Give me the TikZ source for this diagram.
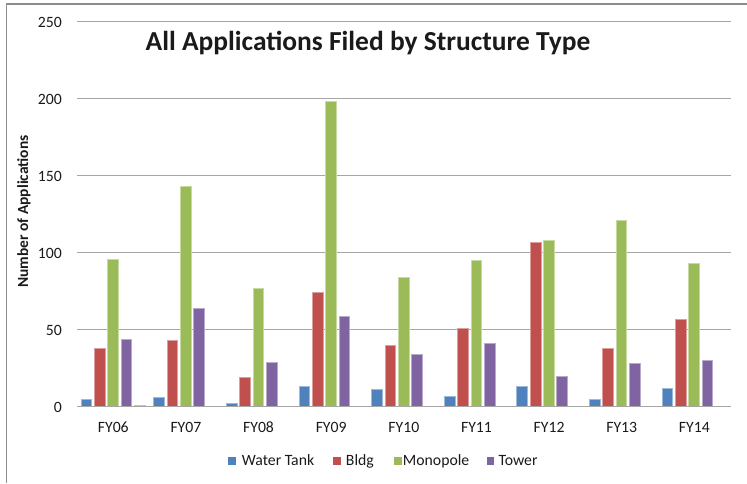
\documentclass[tikz,border=0pt]{standalone}
\usepackage{fontspec}
\setmainfont{Carlito}
\definecolor{wtank}{HTML}{4F81BD}
\definecolor{bldg}{HTML}{C0504D}
\definecolor{mono}{HTML}{9BBB59}
\definecolor{towr}{HTML}{8064A2}
\definecolor{xtra}{HTML}{4BACC6}
\definecolor{gridgray}{HTML}{A6A6A6}
\definecolor{bordergray}{HTML}{8C8C8C}
\definecolor{txt}{HTML}{1A1A1A}
\begin{document}
\begin{tikzpicture}[x=0.75pt,y=-0.75pt,
  font=\fontsize{11.8}{14}\selectfont,
  gridline/.style={draw=gridgray, line width=1pt},
  barstyle/.style={fill=#1, draw=#1!55!white, line width=0.45pt},
  lab/.style={text=txt, inner sep=0pt},
  legsq/.style={fill=#1, draw=none}]
\useasboundingbox (0,0) rectangle (747,483);
% outer chart border (top and left visible)
\coordinate (bl) at (6.5,483);
\coordinate (tl) at (6.5,4);
\coordinate (tr) at (747,4);
\draw[draw=bordergray, line width=1pt] (bl) -- (tl) -- (tr);
% gridlines and value labels
\foreach \v in {50,100,150,200,250}{
  \coordinate (gl\v) at (77,{406.7-1.54*\v});
  \coordinate (gr\v) at (730.7,{406.7-1.54*\v});
  \draw[gridline] (gl\v) -- (gr\v);
}
\foreach \v in {0,50,100,150,200,250}{
  \node[lab, anchor=base east] (tick\v) at (62,{406.7-1.54*\v+5.3}) {\v};
}
% bars
\foreach \k/\a/\b/\c/\d in {0/5/38/96/44,1/6/43/143/64,2/2/19/77/29,3/13/74/198/59,4/11/40/84/34,5/7/51/95/41,6/13/107/108/20,7/5/38/121/28,8/12/57/93/30}{
  \pgfmathsetmacro{\xz}{81+72.63*\k}
  \draw[barstyle=wtank] (\xz,406.7) rectangle ({\xz+10.7},{406.7-1.54*\a});
  \draw[barstyle=bldg] ({\xz+13.33},406.7) rectangle ({\xz+13.33+10.7},{406.7-1.54*\b});
  \draw[barstyle=mono] ({\xz+26.66},406.7) rectangle ({\xz+26.66+10.7},{406.7-1.54*\c});
  \draw[barstyle=towr] ({\xz+39.99},406.7) rectangle ({\xz+39.99+10.7},{406.7-1.54*\d});
}
% small extra bar in FY06
\draw[barstyle=xtra] (134.3,406.7) rectangle (145,405.1);
% zero axis line
\coordinate (ax0) at (77,406.7);
\coordinate (ax1) at (730.7,406.7);
\draw[gridline] (ax0) -- (ax1);
% category labels
\foreach \k/\t in {0/FY06,1/FY07,2/FY08,3/FY09,4/FY10,5/FY11,6/FY12,7/FY13,8/FY14}{
  \node[lab, anchor=base] (cat\k) at ({77+72.63*\k+36.3},432.3) {\t};
}
% title
\node[lab, anchor=base] (title) at (368,50) {\fontsize{20.6}{24}\selectfont\bfseries All Applications Filed by Structure Type};
% axis title
\node[lab, rotate=90, anchor=center] (ytitle) at (24,211.5) {\fontsize{11.6}{14}\selectfont\bfseries Number of Applications};
% legend
\path[legsq=wtank] (228.3,456.8) rectangle (236,465);
\node[lab, anchor=base west] (lwt) at (241.7,465.2) {Water Tank};
\path[legsq=bldg] (333.3,456.8) rectangle (341,465);
\node[lab, anchor=base west] (lbl) at (345.7,465.2) {Bldg};
\path[legsq=mono] (394.3,456.8) rectangle (402,465);
\node[lab, anchor=base west] (lmo) at (402.7,465.2) {Monopole};
\path[legsq=towr] (486.7,456.8) rectangle (494.4,465);
\node[lab, anchor=base west] (lto) at (498.3,465.2) {Tower};
\end{tikzpicture}
\end{document}
